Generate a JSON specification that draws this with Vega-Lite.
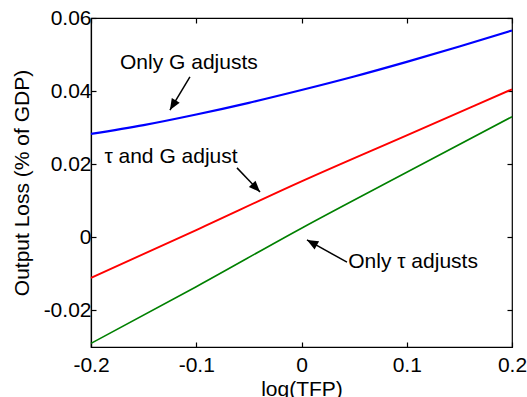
{
  "$schema": "https://vega.github.io/schema/vega-lite/v6.json",
  "width": 421,
  "height": 329,
  "autosize": "none",
  "padding": {"left": 91, "top": 18, "right": 15, "bottom": 50},
  "background": "white",
  "config": {
    "view": {"stroke": "black", "strokeWidth": 1.2},
    "font": "Liberation Sans",
    "axis": {
      "grid": false,
      "domainColor": "black",
      "domainWidth": 1.2,
      "tickColor": "black",
      "tickWidth": 1.2,
      "tickSize": -5,
      "labelFlush": false,
      "labelOverlap": false,
      "labelColor": "black",
      "labelFontSize": 21,
      "labelFont": "Liberation Sans",
      "titleFont": "Liberation Sans",
      "titleFontSize": 21,
      "titleFontWeight": "normal",
      "titleColor": "black"
    }
  },
  "datasets": {
    "lines": [
      {"s": "Only G", "x": -0.2, "y": 0.0283},
      {"s": "Only G", "x": -0.15, "y": 0.0307},
      {"s": "Only G", "x": -0.1, "y": 0.0336},
      {"s": "Only G", "x": -0.05, "y": 0.0368},
      {"s": "Only G", "x": 0.0, "y": 0.0403},
      {"s": "Only G", "x": 0.05, "y": 0.044},
      {"s": "Only G", "x": 0.1, "y": 0.048},
      {"s": "Only G", "x": 0.15, "y": 0.0522},
      {"s": "Only G", "x": 0.2, "y": 0.0566},
      {"s": "tau and G", "x": -0.2, "y": -0.0111},
      {"s": "tau and G", "x": -0.1, "y": 0.002},
      {"s": "tau and G", "x": 0.0, "y": 0.0153},
      {"s": "tau and G", "x": 0.1, "y": 0.0279},
      {"s": "tau and G", "x": 0.2, "y": 0.0405},
      {"s": "Only tau", "x": -0.2, "y": -0.029},
      {"s": "Only tau", "x": -0.1, "y": -0.0135},
      {"s": "Only tau", "x": 0.0, "y": 0.0025},
      {"s": "Only tau", "x": 0.1, "y": 0.0178},
      {"s": "Only tau", "x": 0.2, "y": 0.033}
    ],
    "arrows": [
      {"x": -0.106, "y": 0.0439, "x2": -0.125, "y2": 0.0348, "a": 211},
      {"x": -0.0613, "y": 0.019, "x2": -0.0394, "y2": 0.0124, "a": 136},
      {"x": 0.0432, "y": -0.0068, "x2": 0.0052, "y2": -0.0007, "a": 299}
    ],
    "labels": [
      {"x": -0.107, "y": 0.0477, "t": "Only G adjusts"},
      {"x": -0.124, "y": 0.022, "t": "τ and G adjust"},
      {"x": 0.106, "y": -0.0068, "t": "Only τ adjusts"}
    ]
  },
  "resolve": {"axis": {"x": "independent", "y": "independent"}},
  "layer": [
    {
      "data": {"name": "lines"},
      "mark": {"type": "line", "interpolate": "monotone"},
      "encoding": {
        "x": {"field": "x", "type": "quantitative",
              "scale": {"domain": [-0.2, 0.2], "nice": false, "zero": false},
              "axis": {"orient": "bottom", "values": [-0.2, -0.1, 0, 0.1, 0.2], "labelExpr": "replace(format(datum.value, '.1~f'), '−', '-')", "title": "log(TFP)", "labelPadding": 12, "titlePadding": 3}},
        "y": {"field": "y", "type": "quantitative",
              "scale": {"domain": [-0.03, 0.06], "nice": false, "zero": false},
              "axis": {"orient": "left", "values": [-0.02, 0, 0.02, 0.04, 0.06], "labelExpr": "replace(format(datum.value, '.2~f'), '−', '-')", "title": "Output Loss (% of GDP)", "labelPadding": 5, "titlePadding": 11}},
        "color": {"field": "s", "type": "nominal",
                  "scale": {"domain": ["Only G", "tau and G", "Only tau"], "range": ["#0000ff", "#ff0000", "#008000"]},
                  "legend": null},
        "strokeWidth": {"field": "s", "type": "nominal",
                  "scale": {"domain": ["Only G", "tau and G", "Only tau"], "range": [2.2, 1.6, 1.6]},
                  "legend": null}
      }
    },
    {
      "data": {"name": "arrows"},
      "mark": {"type": "rule", "color": "black", "strokeWidth": 1.5},
      "encoding": {
        "x": {"field": "x", "type": "quantitative",
              "axis": {"orient": "top", "values": [-0.2, -0.1, 0, 0.1, 0.2], "labels": false, "title": null, "domain": false}},
        "y": {"field": "y", "type": "quantitative",
              "axis": {"orient": "right", "values": [-0.02, 0, 0.02, 0.04, 0.06], "labels": false, "title": null, "domain": false}},
        "x2": {"field": "x2"},
        "y2": {"field": "y2"}
      }
    },
    {
      "data": {"name": "arrows"},
      "mark": {"type": "point", "filled": true, "color": "black", "opacity": 1, "shape": "M0,0L-0.45,1.1L0.45,1.1Z", "size": 420},
      "encoding": {
        "x": {"field": "x2", "type": "quantitative", "axis": null},
        "y": {"field": "y2", "type": "quantitative", "axis": null},
        "angle": {"field": "a", "type": "quantitative", "scale": null}
      }
    },
    {
      "data": {"name": "labels"},
      "mark": {"type": "text", "fontSize": 21, "font": "Liberation Sans", "color": "black", "align": "center", "baseline": "middle"},
      "encoding": {
        "x": {"field": "x", "type": "quantitative", "axis": null},
        "y": {"field": "y", "type": "quantitative", "axis": null},
        "text": {"field": "t"}
      }
    }
  ]
}
